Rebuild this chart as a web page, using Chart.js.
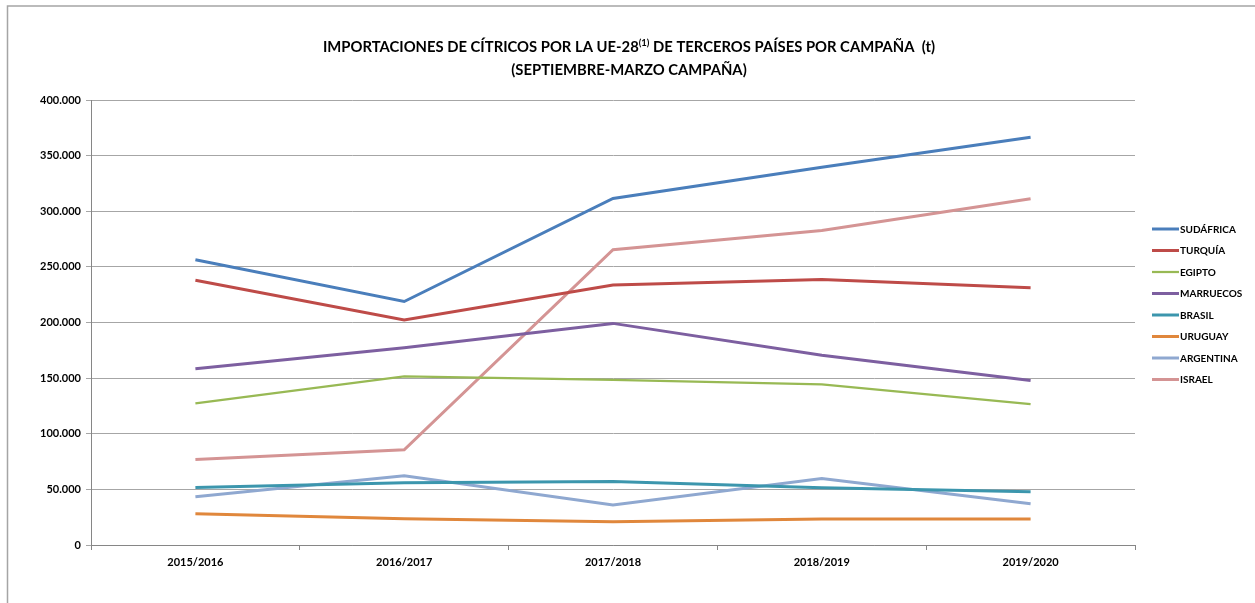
<!DOCTYPE html>
<html>
<head>
<meta charset="utf-8">
<script src="https://cdn.jsdelivr.net/npm/chart.js@4/dist/chart.umd.min.js"></script>
<style>
  html, body { margin: 0; padding: 0; background: #fff; }
  #wrap { width: 1255px; height: 603px; position: relative; }
</style>
</head>
<body>
<div id="wrap"><canvas id="c"></canvas></div>
<script>
const categories = ['2015/2016', '2016/2017', '2017/2018', '2018/2019', '2019/2020'];

const sudafrica = [256400, 218900, 311500, 339500, 366600];
const turquia   = [238000, 202300, 233800, 238600, 231300];
const egipto    = [127400, 151500, 148400, 144300, 126600];
const marruecos = [158400, 177300, 199200, 170500, 147800];
const brasil    = [51600, 55900, 57000, 51500, 47900];
const uruguay   = [28000, 23500, 20800, 23400, 23400];
const argentina = [43400, 62200, 35900, 59800, 37100];
const israel    = [76900, 85600, 265400, 282600, 311300];

const seriesNames = ['SUDÁFRICA', 'TURQUÍA', 'EGIPTO', 'MARRUECOS', 'BRASIL', 'URUGUAY', 'ARGENTINA', 'ISRAEL'];
const seriesData = [sudafrica, turquia, egipto, marruecos, brasil, uruguay, argentina, israel];
const seriesColors = ['#4a7ebb', '#be4b48', '#98b954', '#7d5fa0', '#3c96ad', '#e0873c', '#8fa8d0', '#d49494'];
const seriesWidths = [3, 3, 2.25, 3, 3, 3, 3, 3];

const titleLine1a = 'IMPORTACIONES DE CÍTRICOS POR LA UE-28';
const titleSup = '(1)';
const titleLine1b = ' DE TERCEROS PAÍSES POR CAMPAÑA  (t)';
const titleLine2 = '(SEPTIEMBRE-MARZO CAMPAÑA)';

const FONT = 'Lato, "Open Sans", sans-serif';

const decorPlugin = {
  id: 'decor',
  beforeDraw(chart) {
    const ctx = chart.ctx;
    ctx.save();
    ctx.strokeStyle = '#a5a5a5';
    ctx.lineWidth = 1.5;
    ctx.beginPath();
    ctx.moveTo(7.5, 603);
    ctx.lineTo(7.5, 6);
    ctx.lineTo(1255, 6);
    ctx.stroke();
    ctx.restore();
  },
  afterDraw(chart) {
    const ctx = chart.ctx;
    ctx.save();
    ctx.fillStyle = '#000';
    ctx.textBaseline = 'middle';
    const cx = 629;
    const mainFont = 'bold 14.8px ' + FONT;
    const supFont = 'bold 9.5px ' + FONT;
    ctx.font = mainFont;
    const wa = ctx.measureText(titleLine1a).width;
    const wb = ctx.measureText(titleLine1b).width;
    ctx.font = supFont;
    const ws = ctx.measureText(titleSup).width;
    let x = cx - (wa + ws + wb) / 2;
    const y1 = 47;
    ctx.textAlign = 'left';
    ctx.font = mainFont;
    ctx.fillText(titleLine1a, x, y1);
    x += wa;
    ctx.font = supFont;
    ctx.fillText(titleSup, x, y1 - 4);
    x += ws;
    ctx.font = mainFont;
    ctx.fillText(titleLine1b, x, y1);
    ctx.textAlign = 'center';
    ctx.fillText(titleLine2, cx, 70);

    const lx = 1152, ly0 = 229, step = 21.5;
    ctx.font = 'bold 10px ' + FONT;
    ctx.textAlign = 'left';
    chart.data.datasets.forEach((ds, i) => {
      const y = ly0 + i * step;
      ctx.strokeStyle = ds.borderColor;
      ctx.lineWidth = ds.borderWidth;
      ctx.beginPath();
      ctx.moveTo(lx, y);
      ctx.lineTo(lx + 27, y);
      ctx.stroke();
      ctx.fillStyle = '#000';
      ctx.fillText(ds.label, lx + 28, y + 0.5);
    });
    ctx.restore();
  }
};

new Chart(document.getElementById('c'), {
  type: 'line',
  data: {
    labels: categories,
    datasets: seriesNames.map((name, i) => ({
      label: name,
      data: seriesData[i],
      borderColor: seriesColors[i],
      backgroundColor: seriesColors[i],
      borderWidth: seriesWidths[i],
      pointRadius: 0,
      tension: 0,
      fill: false
    }))
  },
  options: {
    responsive: true,
    maintainAspectRatio: false,
    animation: false,
    layout: { padding: { top: 100, right: 120, bottom: 28, left: 0 } },
    plugins: {
      legend: { display: false },
      title: { display: false },
      tooltip: { enabled: false }
    },
    scales: {
      x: {
        offset: true,
        grid: {
          offset: true,
          display: true,
          drawOnChartArea: false,
          drawTicks: true,
          tickLength: 5,
          color: '#868686'
        },
        border: { color: '#868686', width: 1 },
        ticks: {
          color: '#000',
          font: { family: FONT, size: 11, weight: 'bold' },
          padding: 6,
          maxRotation: 0
        },
        afterFit(scale) { scale.height = 30; }
      },
      y: {
        min: 0,
        max: 400000,
        grid: {
          color: '#a6a6a6',
          tickLength: 5,
          drawTicks: true
        },
        border: { color: '#868686', width: 1 },
        ticks: {
          stepSize: 50000,
          color: '#000',
          padding: 5,
          font: { family: FONT, size: 11, weight: 'bold' },
          callback: (v) => String(v).replace(/\B(?=(\d{3})+(?!\d))/g, '.')
        },
        afterFit(scale) { scale.width = 91; }
      }
    }
  },
  plugins: [decorPlugin]
});
</script>
</body>
</html>
